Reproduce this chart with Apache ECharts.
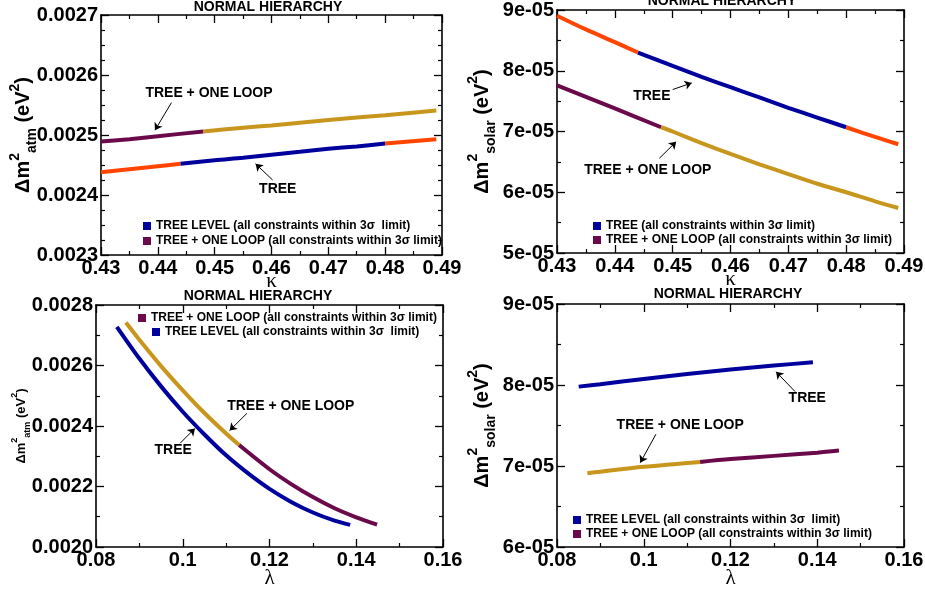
<!DOCTYPE html>
<html><head><meta charset="utf-8">
<script src="https://cdn.jsdelivr.net/npm/echarts@6/dist/echarts.min.js"></script>
<style>html,body{margin:0;padding:0;background:#fff}#c{width:925px;height:589px}</style>
</head><body><div id="c"></div>
<script>
const FONT = '"Liberation Sans", Arial, Helvetica, sans-serif';
const SERIF = '"Liberation Serif", "DejaVu Serif", serif';
const C_ORANGE = '#ff4500', C_BLUE = '#00009c', C_PURPLE = '#6a0a4a', C_GOLD = '#c8961c';

// ---------- data ----------
// Panel 1: Δm²atm vs κ
const kappaTreeAtm = [[0.43,0.002438],[0.435,0.002443],[0.44,0.002448],[0.444,0.002452],[0.45,0.002458],[0.455,0.002462],[0.46,0.002467],[0.465,0.002472],[0.47,0.002477],[0.475,0.002481],[0.48,0.002486],[0.489,0.002493]];
const kappaLoopAtm = [[0.43,0.002489],[0.435,0.002493],[0.44,0.002498],[0.448,0.002506],[0.455,0.002512],[0.46,0.002516],[0.47,0.002525],[0.48,0.002533],[0.489,0.002541]];
// Panel 2: Δm²solar vs κ
const kappaTreeSol = [[0.43,8.906e-5],[0.435,8.68e-5],[0.44,8.47e-5],[0.444,8.30e-5],[0.45,8.08e-5],[0.455,7.90e-5],[0.46,7.73e-5],[0.465,7.56e-5],[0.47,7.39e-5],[0.475,7.23e-5],[0.48,7.07e-5],[0.485,6.91e-5],[0.489,6.79e-5]];
const kappaLoopSol = [[0.43,7.76e-5],[0.435,7.57e-5],[0.44,7.38e-5],[0.448,7.07e-5],[0.45,7.00e-5],[0.455,6.81e-5],[0.46,6.63e-5],[0.465,6.46e-5],[0.47,6.30e-5],[0.475,6.14e-5],[0.48,6.00e-5],[0.485,5.85e-5],[0.489,5.74e-5]];
// Panel 3: Δm²atm vs λ
const lambdaTreeAtm = [[0.0848,0.002728],[0.09,0.002623],[0.095,0.002531],[0.1,0.002447],[0.105,0.002372],[0.11,0.002303],[0.115,0.002244],[0.12,0.002192],[0.125,0.002149],[0.13,0.002114],[0.135,0.002087],[0.1386,0.002073]];
const lambdaLoopAtm = [[0.0869,0.002742],[0.09,0.002685],[0.095,0.002598],[0.1,0.002518],[0.105,0.002443],[0.11,0.002375],[0.113,0.002337],[0.12,0.002257],[0.125,0.002208],[0.13,0.002165],[0.135,0.002128],[0.14,0.002098],[0.1448,0.002074]];
// Panel 4: Δm²solar vs λ
const lambdaTreeSol = [[0.085,7.98e-5],[0.09,8.01e-5],[0.1,8.075e-5],[0.11,8.135e-5],[0.12,8.19e-5],[0.13,8.24e-5],[0.139,8.28e-5]];
const lambdaLoopSol = [[0.087,6.91e-5],[0.09,6.93e-5],[0.1,6.99e-5],[0.113,7.05e-5],[0.12,7.085e-5],[0.13,7.125e-5],[0.14,7.165e-5],[0.145,7.19e-5]];

// segment boundaries (x ranges where all constraints are within 3σ)
const kappaTreeInside = [0.444, 0.48];
const kappaLoopInside = [0.43, 0.448];
const lambdaLoopInside = [0.113, 0.1448];
const lambdaLoopInside4 = [0.113, 0.145];

// tick labels
const xTicksKappa = ['0.43','0.44','0.45','0.46','0.47','0.48','0.49'];
const xTicksLambda = ['0.08','0.1','0.12','0.14','0.16'];
const yTicksAtm1 = ['0.0023','0.0024','0.0025','0.0026','0.0027'];
const yTicksSol2 = ['5e-05','6e-05','7e-05','8e-05','9e-05'];
const yTicksAtm3 = ['0.0020','0.0022','0.0024','0.0026','0.0028'];
const yTicksSol4 = ['6e-05','7e-05','8e-05','9e-05'];

// legend names
const LEG_TREE_LEVEL = 'TREE LEVEL (all constraints within 3σ  limit)';
const LEG_TREE = 'TREE (all constraints within 3σ limit)';
const LEG_LOOP = 'TREE + ONE LOOP (all constraints within 3σ limit)';
const OUT_TREE = 'TREE (outside 3σ)';
const OUT_LOOP = 'TREE + ONE LOOP (outside 3σ)';

// annotations: [text, x, y]; arrows: [x1, y1, x2, y2] (data coords)
const notes1 = [['TREE + ONE LOOP',0.449,0.002570],['TREE',0.4611,0.00241]];
const arrows1 = [[0.4424,0.002554,0.4395,0.002508],[0.4602,0.002425,0.4572,0.002452]];
const notes2 = [['TREE',0.4464,7.584e-5],['TREE + ONE LOOP',0.4457,6.366e-5]];
const arrows2 = [[0.4500,7.69e-5,0.4533,7.80e-5],[0.4477,6.559e-5,0.4506,6.832e-5]];
const notes3 = [['TREE + ONE LOOP',0.1249,0.002467],['TREE',0.0978,0.002319]];
const arrows3 = [[0.1148,0.002442,0.1108,0.002385],[0.0994,0.002343,0.1028,0.002392]];
const notes4 = [['TREE',0.1377,7.837e-5],['TREE + ONE LOOP',0.1084,7.502e-5]];
const arrows4 = [[0.1349,7.918e-5,0.1305,8.163e-5],[0.1028,7.392e-5,0.0992,7.041e-5]];

// ---------- layout ----------
const grids = [
  {left:101, top:15, width:341, height:240},
  {left:557, top:10, width:347, height:243},
  {left:96, top:305, width:347, height:242},
  {left:557, top:304, width:347, height:243}
];

function labelFrom(list, step) {
  return function (v) {
    const hit = list.find(l => Math.abs(parseFloat(l) - v) < step / 10);
    return hit === undefined ? '' : hit;
  };
}

const xAxes = [], yAxes = [];
function addAxes(gi, xr, yr, xLabels, yLabels, xName, xGap, yNameCfg) {
  const tick = {show:true, inside:true, length:8, lineStyle:{color:'#000', width:1.3}};
  const minor = (n) => ({show:true, splitNumber:n, length:4, lineStyle:{color:'#000', width:1.2}});
  const line = {show:true, onZero:false, lineStyle:{color:'#000', width:1.6}};
  xAxes.push({
    type:'value', gridIndex:gi, position:'bottom', min:xr[0], max:xr[1], interval:xr[2],
    axisLine:line, axisTick:tick, minorTick:minor(xr[3]), splitLine:{show:false},
    axisLabel:{show:true, margin:3, color:'#000', fontSize:20, fontWeight:'bold', fontFamily:FONT,
      formatter: labelFrom(xLabels, xr[2]), showMinLabel:true, showMaxLabel:true, hideOverlap:false},
    name:xName, nameLocation:'middle', nameGap:xGap, nameMoveOverlap:false,
    nameTextStyle:{fontSize:21, fontFamily:SERIF, color:'#000'}
  });
  xAxes.push({
    type:'value', gridIndex:gi, position:'top', min:xr[0], max:xr[1], interval:xr[2],
    axisLine:line, axisTick:tick, minorTick:minor(xr[3]), splitLine:{show:false}, axisLabel:{show:false}
  });
  yAxes.push(Object.assign({
    type:'value', gridIndex:gi, position:'left', min:yr[0], max:yr[1], interval:yr[2],
    axisLine:line, axisTick:tick, minorTick:minor(yr[3]), splitLine:{show:false},
    axisLabel:{show:true, margin:3, color:'#000', fontSize:20, fontWeight:'bold', fontFamily:FONT,
      formatter: labelFrom(yLabels, yr[2]), showMinLabel:true, showMaxLabel:true, hideOverlap:false},
    nameLocation:'middle', nameRotate:90, nameMoveOverlap:false
  }, yNameCfg));
  yAxes.push({
    type:'value', gridIndex:gi, position:'right', min:yr[0], max:yr[1], interval:yr[2],
    axisLine:line, axisTick:tick, minorTick:minor(yr[3]), splitLine:{show:false}, axisLabel:{show:false}
  });
}

function yName(sub, main, small, lh, gap) {
  return {
    name: '{d|Δm}{sup|2}{sub|' + sub + '}{p| (eV}{sup|2}{p|)}',
    nameGap: gap,
    nameTextStyle: {
      color:'#000', fontFamily:FONT, fontWeight:'bold', fontSize:main, lineHeight:lh,
      rich: {
        d:{fontSize:main, fontWeight:'bold', fontFamily:FONT, color:'#000', verticalAlign:'middle'},
        p:{fontSize:main, fontWeight:'bold', fontFamily:FONT, color:'#000', verticalAlign:'middle'},
        sup:{fontSize:small, fontWeight:'bold', fontFamily:FONT, color:'#000', verticalAlign:'top'},
        sub:{fontSize:small, fontWeight:'bold', fontFamily:FONT, color:'#000', verticalAlign:'bottom'}
      }
    }
  };
}

addAxes(0, [0.43,0.49,0.01,2], [0.0023,0.0027,0.0001,4], xTicksKappa, yTicksAtm1, 'κ', 16, yName('atm', 20, 14, 31, 62));
addAxes(1, [0.43,0.49,0.01,2], [5e-5,9e-5,1e-5,2], xTicksKappa, yTicksSol2, 'κ', 16, yName('solar', 20, 14, 32, 59));
addAxes(2, [0.08,0.16,0.02,2], [0.0020,0.0028,0.0002,2], xTicksLambda, yTicksAtm3, 'λ', 21, yName('atm', 13, 9, 22, 64));
addAxes(3, [0.08,0.16,0.02,2], [6e-5,9e-5,1e-5,2], xTicksLambda, yTicksSol4, 'λ', 21, yName('solar', 20, 14, 32, 59));

// ---------- series ----------
const series = [];
function addSegments(gi, pts, segs) {
  segs.forEach(([a, b, color, name]) => {
    series.push({
      type:'line', name:name, xAxisIndex:2*gi, yAxisIndex:2*gi,
      data: pts.filter(p => p[0] >= a - 1e-9 && p[0] <= b + 1e-9),
      showSymbol:false, smooth:0.3, color:color,
      lineStyle:{color:color, width:4}, itemStyle:{color:color},
      emphasis:{disabled:true}, silent:true, z:3
    });
  });
}
function first(p) { return p[0][0]; }
function last(p) { return p[p.length-1][0]; }

addSegments(0, kappaTreeAtm, [
  [first(kappaTreeAtm), kappaTreeInside[0], C_ORANGE, OUT_TREE],
  [kappaTreeInside[0], kappaTreeInside[1], C_BLUE, LEG_TREE_LEVEL],
  [kappaTreeInside[1], last(kappaTreeAtm), C_ORANGE, OUT_TREE]]);
addSegments(0, kappaLoopAtm, [
  [kappaLoopInside[0], kappaLoopInside[1], C_PURPLE, LEG_LOOP],
  [kappaLoopInside[1], last(kappaLoopAtm), C_GOLD, OUT_LOOP]]);

addSegments(1, kappaTreeSol, [
  [first(kappaTreeSol), kappaTreeInside[0], C_ORANGE, OUT_TREE],
  [kappaTreeInside[0], kappaTreeInside[1], C_BLUE, LEG_TREE],
  [kappaTreeInside[1], last(kappaTreeSol), C_ORANGE, OUT_TREE]]);
addSegments(1, kappaLoopSol, [
  [kappaLoopInside[0], kappaLoopInside[1], C_PURPLE, LEG_LOOP],
  [kappaLoopInside[1], last(kappaLoopSol), C_GOLD, OUT_LOOP]]);

addSegments(2, lambdaTreeAtm, [[first(lambdaTreeAtm), last(lambdaTreeAtm), C_BLUE, LEG_TREE_LEVEL]]);
addSegments(2, lambdaLoopAtm, [
  [first(lambdaLoopAtm), lambdaLoopInside[0], C_GOLD, OUT_LOOP],
  [lambdaLoopInside[0], lambdaLoopInside[1], C_PURPLE, LEG_LOOP]]);

addSegments(3, lambdaTreeSol, [[first(lambdaTreeSol), last(lambdaTreeSol), C_BLUE, LEG_TREE_LEVEL]]);
addSegments(3, lambdaLoopSol, [
  [first(lambdaLoopSol), lambdaLoopInside4[0], C_GOLD, OUT_LOOP],
  [lambdaLoopInside4[0], lambdaLoopInside4[1], C_PURPLE, LEG_LOOP]]);

// annotations (text + arrows) as markers on an empty helper series per panel
function addNotes(gi, notes, arrows) {
  series.push({
    type:'line', name:'notes' + gi, xAxisIndex:2*gi, yAxisIndex:2*gi, data:[], silent:true,
    markPoint:{
      symbol:'circle', symbolSize:1, itemStyle:{color:'rgba(0,0,0,0)'}, silent:true,
      label:{show:true, position:'inside', color:'#000', fontSize:14, fontWeight:'bold', fontFamily:FONT,
        formatter:(p) => p.name},
      data: notes.map(n => ({name:n[0], coord:[n[1], n[2]]}))
    },
    markLine:{
      silent:true, symbol:['none','arrow'], symbolSize:7, label:{show:false},
      lineStyle:{color:'#000', width:1, type:'solid'},
      emphasis:{disabled:true},
      data: arrows.map(a => [{coord:[a[0], a[1]]}, {coord:[a[2], a[3]]}])
    }
  });
}
addNotes(0, notes1, arrows1);
addNotes(1, notes2, arrows2);
addNotes(2, notes3, arrows3);
addNotes(3, notes4, arrows4);

// ---------- legends ----------
function leg(name, left, cy) {
  return {
    data:[name], left:left, top:cy - 7, orient:'vertical', padding:0, itemGap:0,
    itemWidth:8, itemHeight:8, icon:'rect', selectedMode:false,
    textStyle:{fontSize:12, fontWeight:'bold', fontFamily:FONT, color:'#000', lineHeight:14}
  };
}
const legends = [
  leg(LEG_TREE_LEVEL, 143, 226), leg(LEG_LOOP, 143, 241),
  leg(LEG_TREE, 593, 226), leg(LEG_LOOP, 593, 240),
  leg(LEG_LOOP, 138, 318), leg(LEG_TREE_LEVEL, 152, 332),
  leg(LEG_TREE_LEVEL, 573, 520), leg(LEG_LOOP, 573, 534)
];

// ---------- titles ----------
function ttl(cx, cy) {
  return {text:'NORMAL HIERARCHY', left:cx, top:cy - 9, textAlign:'center', padding:0,
    textStyle:{fontSize:14, fontWeight:'bold', fontFamily:FONT, color:'#000'}};
}
const titles = [ttl(268, 9), ttl(722, 3), ttl(258, 298), ttl(728, 296)];

const chart = echarts.init(document.getElementById('c'), null, {renderer:'canvas'});
chart.setOption({
  animation:false,
  backgroundColor:'#fff',
  title: titles,
  legend: legends,
  grid: grids.map(g => Object.assign({containLabel:false, outerBoundsMode:'none'}, g)),
  xAxis: xAxes,
  yAxis: yAxes,
  series: series
});
</script>
</body></html>
